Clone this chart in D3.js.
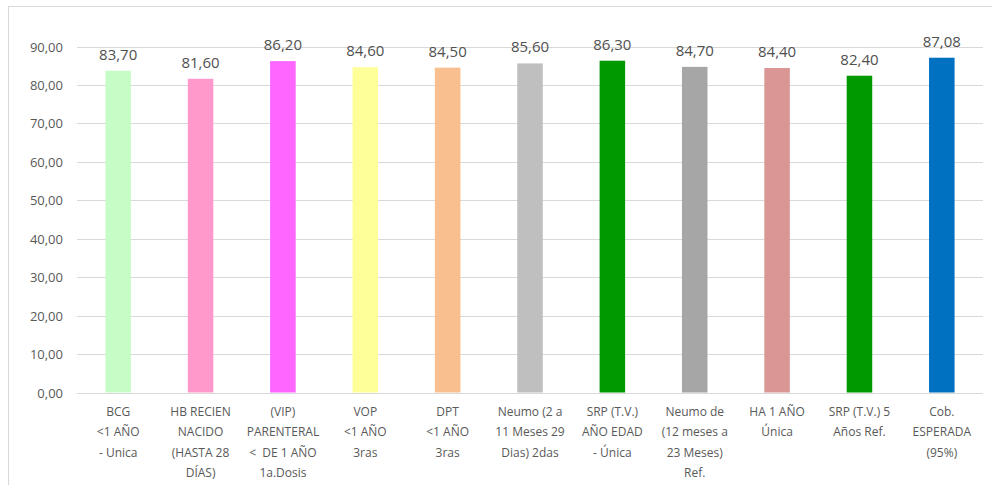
<!DOCTYPE html>
<html><head><meta charset="utf-8">
<script src="https://cdn.jsdelivr.net/npm/d3@7"></script>
<style>body{margin:0;background:#fff}svg{display:block}</style>
</head><body>
<svg id="c" width="992" height="485"></svg>
<script>
const categories = [
  ["BCG","<1 AÑO","- Unica"],
  ["HB RECIEN","NACIDO","(HASTA 28","DÍAS)"],
  ["(VIP)","PARENTERAL","<  DE 1 AÑO","1a.Dosis"],
  ["VOP","<1 AÑO","3ras"],
  ["DPT","<1 AÑO","3ras"],
  ["Neumo (2 a","11 Meses 29","Dias) 2das"],
  ["SRP (T.V.)","AÑO EDAD","- Única"],
  ["Neumo de","(12 meses a","23 Meses)","Ref."],
  ["HA 1 AÑO","Única"],
  ["SRP (T.V.) 5","Años Ref."],
  ["Cob.","ESPERADA","(95%)"]
];
const values = [83.70, 81.60, 86.20, 84.60, 84.50, 85.60, 86.30, 84.70, 84.40, 82.40, 87.08];
const colors = ["#c6fcc6","#ff99cc","#ff66ff","#ffff99","#fabf8f","#bfbfbf","#009900","#a6a6a6","#da9694","#009900","#0070c0"];
const yTicks = [0,10,20,30,40,50,60,70,80,90];

const svg = d3.select("#c");
const font = "'Open Sans', 'Liberation Sans', sans-serif";
svg.append("rect").attr("x",8.5).attr("y",6.5).attr("width",1000).attr("height",500)
  .attr("fill","#fff").attr("stroke","#d9d9d9");

const left = 77, right = 983;
const x = d3.scaleBand().domain(d3.range(values.length)).range([left,right]).paddingInner(0.69).paddingOuter(0.345);
const y = d3.scaleLinear().domain([0,90]).range([392.5,46.5]);

svg.append("g").selectAll("line").data(yTicks).join("line")
  .attr("x1",left).attr("x2",right)
  .attr("y1",d=>Math.round(y(d))+0.5).attr("y2",d=>Math.round(y(d))+0.5)
  .attr("stroke","#d9d9d9").attr("stroke-width",1);

svg.append("g").selectAll("text").data(yTicks).join("text")
  .attr("x",63).attr("y",d=>y(d)+5)
  .attr("text-anchor","end").attr("fill","#595959")
  .style("font-family",font).style("font-size","13px")
  .text(d=>d3.format(".2f")(d).replace(".",","));

svg.append("g").selectAll("rect").data(values).join("rect")
  .attr("x",(d,i)=>x(i)).attr("width",x.bandwidth())
  .attr("y",d=>y(d)).attr("height",d=>y(0)-y(d))
  .attr("fill",(d,i)=>colors[i]);

svg.append("g").selectAll("text").data(values).join("text")
  .attr("x",(d,i)=>x(i)+x.bandwidth()/2).attr("y",d=>y(d)-11)
  .attr("text-anchor","middle").attr("fill","#505050")
  .style("font-family",font).style("font-size","15px")
  .text(d=>d3.format(".2f")(d).replace(".",","));

const lab = svg.append("g").selectAll("text").data(categories).join("text")
  .attr("text-anchor","middle").attr("fill","#595959")
  .style("font-family",font).style("font-size","12px")
  .attr("transform",(d,i)=>`translate(${x(i)+x.bandwidth()/2},0)`);
lab.selectAll("tspan").data(d=>d).join("tspan")
  .attr("x",0).attr("y",(d,j)=>416+j*20.3)
  .style("white-space","pre")
  .text(d=>d);
</script>
</body></html>
